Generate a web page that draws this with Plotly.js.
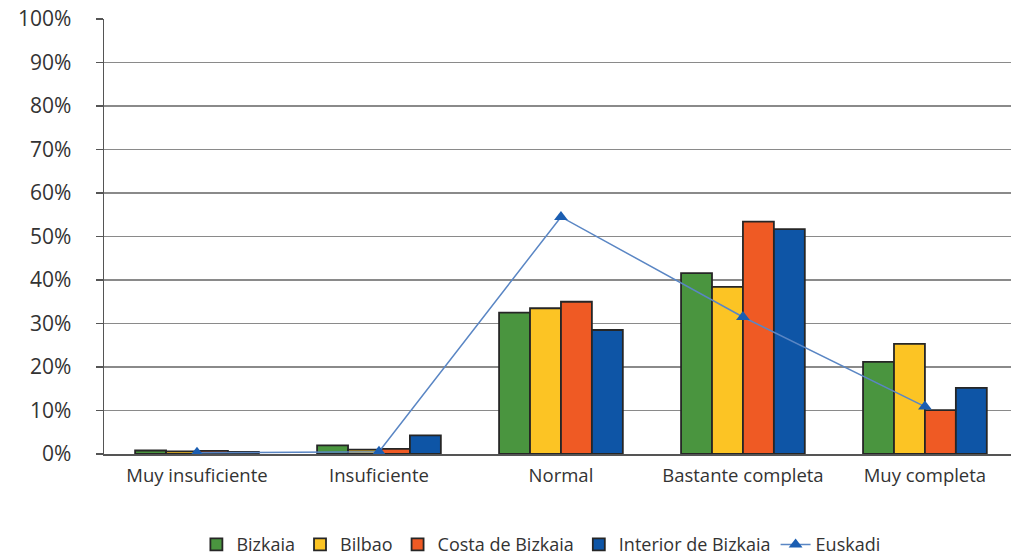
<!DOCTYPE html>
<html><head><meta charset="utf-8">
<script src="https://cdn.plot.ly/plotly-3.0.1.min.js"></script>
<style>body{margin:0;background:#fff}#c{width:1011px;height:557px}</style>
</head><body><div id="c"></div>
<script>
const categories = ["Muy insuficiente", "Insuficiente", "Normal", "Bastante completa", "Muy completa"];
const bizkaia = [0.8, 2.0, 32.5, 41.6, 21.2];
const bilbao = [0.6, 1.0, 33.5, 38.4, 25.3];
const costa = [0.7, 1.2, 35.0, 53.4, 10.1];
const interior = [0.5, 4.3, 28.5, 51.7, 15.2];
const euskadi = [0.3, 0.5, 54.5, 31.5, 10.9];
const yTicks = [0,10,20,30,40,50,60,70,80,90,100];
const yTickLabels = yTicks.map(v => v + "%");

const font = "'Open Sans', Lato, sans-serif";
const outline = {color: "#262626", width: 1.8};
function bar(name, y, color) {
  return {type: "bar", name: name, x: categories, y: y,
    marker: {color: color, line: outline}};
}
const data = [
  bar("Bizkaia", bizkaia, "#4a953f"),
  bar("Bilbao", bilbao, "#fcc424"),
  bar("Costa de Bizkaia", costa, "#ef5a24"),
  bar("Interior de Bizkaia", interior, "#0e55a6"),
  {type: "scatter", mode: "lines+markers", name: "Euskadi", x: categories, y: euskadi,
    line: {color: "#5a86c4", width: 1.5},
    marker: {symbol: "triangle-up", size: 12, color: "#1b5eb2"}}
];
const layout = {
  width: 1011, height: 557,
  margin: {l: 104, r: 0, t: 19, b: 103},
  paper_bgcolor: "#fff", plot_bgcolor: "#fff",
  font: {family: font, size: 18, color: "#333"},
  barmode: "group", bargap: 0.32, bargroupgap: 0,
  showlegend: true,
  legend: {orientation: "h", x: 0.535, xanchor: "center", xref: "container",
    y: 0.022, yanchor: "middle", yref: "container",
    font: {family: font, size: 18, color: "#333"}, traceorder: "normal",
    itemwidth: 30},
  xaxis: {type: "category", range: [-0.511, 4.473], showline: true, linecolor: "#555", linewidth: 1.5,
    ticks: "", tickfont: {family: font, size: 18.5, color: "#333"}, showgrid: false,
    ticklabelstandoff: 4},
  yaxis: {range: [0, 100], tickvals: yTicks, ticktext: yTickLabels,
    showgrid: true, gridcolor: "#8a8a8a", gridwidth: 1.6,
    showline: true, linecolor: "#555", linewidth: 1.5,
    ticks: "outside", ticklen: 7, tickcolor: "#555", tickwidth: 1.5,
    ticklabelstandoff: 20,
    tickfont: {family: font, size: 21, color: "#333"}, zeroline: false}
};
Plotly.newPlot("c", data, layout, {displayModeBar: false, staticPlot: true});
</script></body></html>
